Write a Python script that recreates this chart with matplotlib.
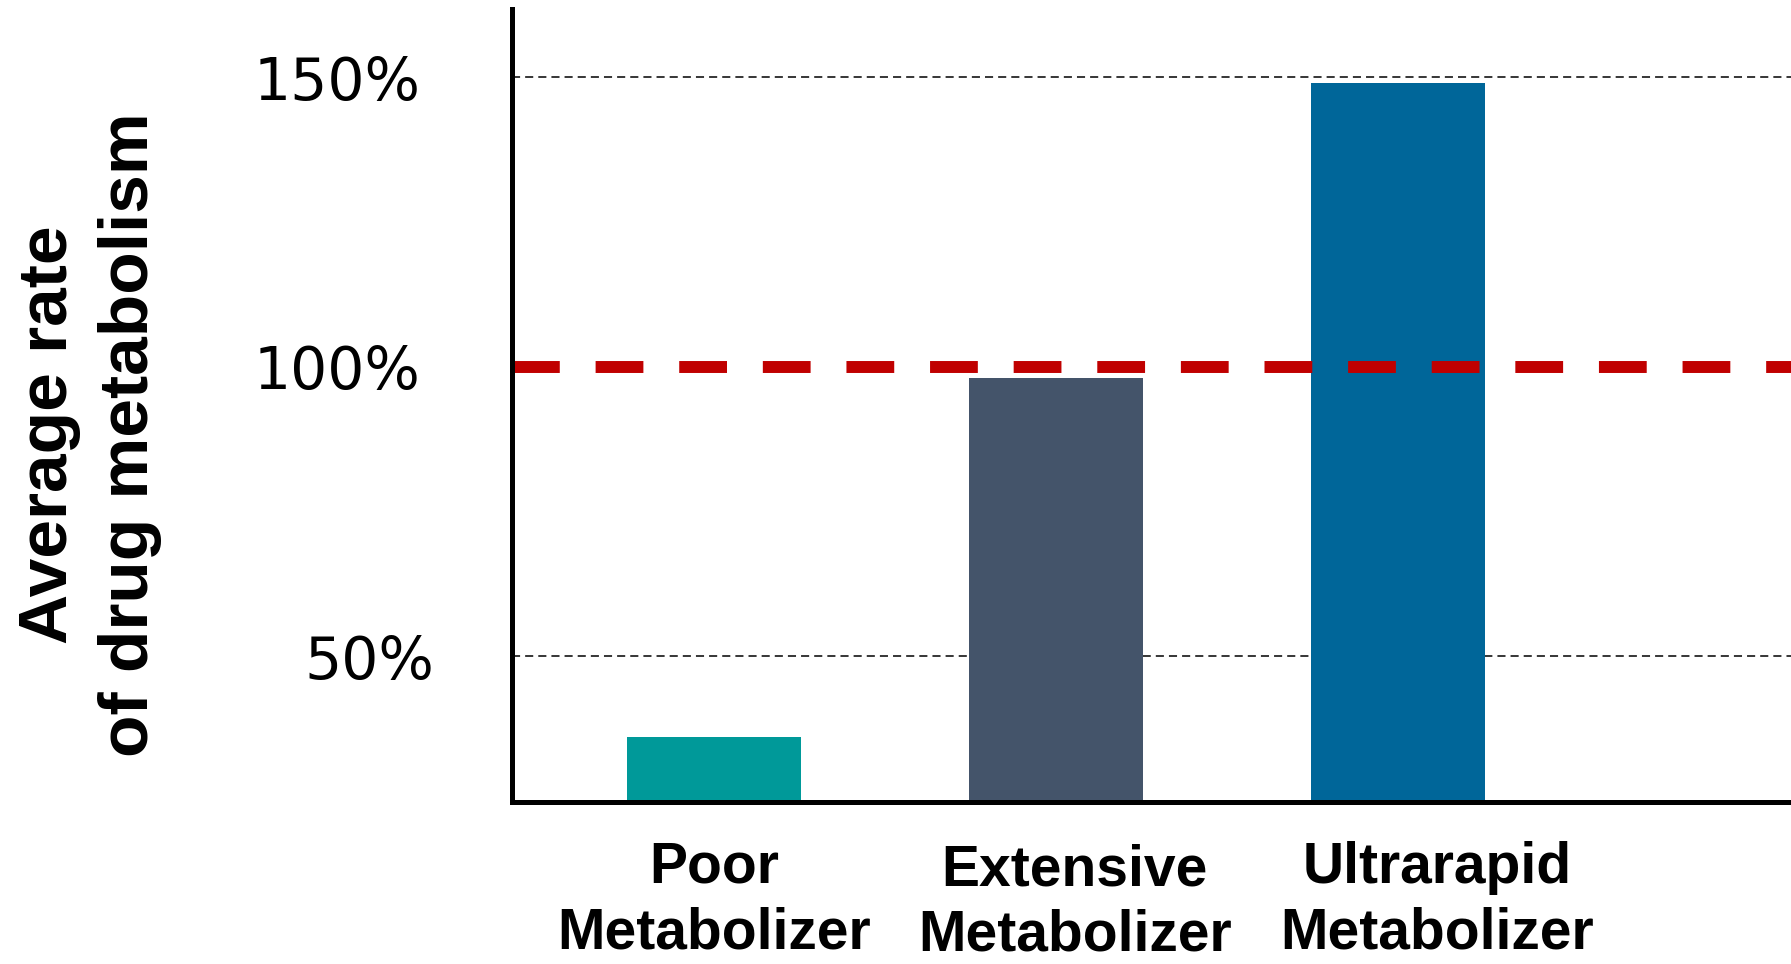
import numpy as np
import matplotlib
matplotlib.use("Agg")
import matplotlib.pyplot as plt
from matplotlib.transforms import ScaledTranslation, blended_transform_factory

# Data
categories = ["Poor\nMetabolizer", "Extensive\nMetabolizer", "Ultrarapid\nMetabolizer"]
rates = [36, 98, 149]               # average rate of drug metabolism, %
bar_colors = ["#009999", "#44546A", "#006699"]
tick_values = [50, 100, 150]
tick_labels = ["50%", "100%", "150%"]
grid_values = [50, 150]
reference_value = 100

fig = plt.figure(figsize=(17.91, 9.64), dpi=100)
ax = fig.add_axes([0.2859, 0.168, 0.7141, 0.8227])

x = np.arange(len(categories))
ax.bar(x, rates, width=0.508, color=bar_colors, zorder=2)

# Thin dashed guide lines behind the bars
for g in grid_values:
    ax.axhline(g, color="black", lw=1.1, dashes=(5.3, 3.3), zorder=1)

# Reference level
ax.axhline(reference_value, color="#C00000", lw=8.6, dashes=(4, 3), zorder=3)

ax.set_xlim(-0.59, 3.15)
ax.set_ylim(24.8, 161.8)

for side in ("top", "right"):
    ax.spines[side].set_visible(False)
ax.spines["left"].set_linewidth(3.6)
ax.spines["bottom"].set_linewidth(3.6)
ax.spines["left"].set_zorder(4)
ax.spines["bottom"].set_zorder(4)

ax.set_xticks([])
ax.set_yticks(tick_values)
ax.set_yticklabels(tick_labels, fontsize=42, family=["DejaVu Sans"])
ax.tick_params(axis="y", length=0, pad=66)
for lab in ax.get_yticklabels():
    if lab.get_text() == "50%":
        lab.set_transform(lab.get_transform() + ScaledTranslation(10 / 72, 0, fig.dpi_scale_trans))

# Category labels under the bars
trans = blended_transform_factory(ax.transData, ax.transAxes)
x_shift = [0.0, 0.055, 0.115]
y_pos = [-0.124, -0.127, -0.124]
for i, name in enumerate(categories):
    ax.text(x[i] + x_shift[i], y_pos[i], name, transform=trans, ha="center", va="center",
            fontsize=41, fontweight="bold", family=["Liberation Sans", "DejaVu Sans"],
            linespacing=1.27, multialignment="center")

fig.text(0.050, 0.549, "Average rate\nof drug metabolism", rotation=90, ha="center", va="center",
         fontsize=50, fontweight="bold", family=["Liberation Sans", "DejaVu Sans"],
         linespacing=1.35, multialignment="center")

fig.savefig("out.png", dpi=100)
